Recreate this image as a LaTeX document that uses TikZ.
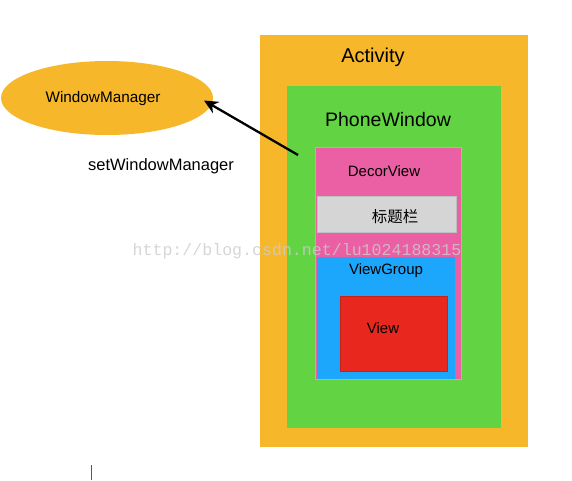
\documentclass[tikz,border=0pt]{standalone}
\usepackage{fontspec}
\setmainfont{Liberation Sans}
\newfontfamily\cjk{Noto Sans CJK SC}
\newfontfamily\wmfont{Liberation Mono}
\usetikzlibrary{shapes.geometric,arrows.meta}
\definecolor{actc}{HTML}{F6B72B}
\definecolor{pwc}{HTML}{62D443}
\definecolor{dvc}{HTML}{EB5FA4}
\definecolor{tbc}{HTML}{D5D5D5}
\definecolor{vgc}{HTML}{1CA6FC}
\definecolor{vc}{HTML}{E8281E}
\tikzset{
  box/.style={draw=none,inner sep=0pt},
  lbl/.style={inner sep=0pt,text=black},
}
\begin{document}
\begin{tikzpicture}[x=1pt,y=-1pt]
\useasboundingbox[fill=white] (0,0) rectangle (572,480);
% boxes
\fill[actc] (260,35) rectangle (528,447);
\fill[pwc] (287,86) rectangle (501,428);
\filldraw[fill=dvc,draw=dvc!70!white] (315,147) rectangle (461,379);
\filldraw[fill=tbc,draw=tbc!90!black,line width=0.4pt] (317,196) rectangle (456,232);
\fill[vgc] (317,257) rectangle (455,379);
\filldraw[fill=vc,draw=vc!85!black,line width=0.6pt] (340,296) rectangle (447,371);
% labels
\node[lbl,font=\fontsize{20}{22}\selectfont] (actl) at (373,57) {Activity};
\node[lbl,font=\fontsize{19.5}{22}\selectfont] (pwl) at (388,120) {PhoneWindow};
\node[lbl,font=\fontsize{15}{17}\selectfont] (dvl) at (384,171.5) {DecorView};
\node[lbl,font=\cjk\fontsize{15.5}{17}\selectfont] (tbl) at (395,216.5) {标题栏};
\node[lbl,font=\fontsize{15}{17}\selectfont] (vgl) at (386,270.5) {ViewGroup};
\node[lbl,font=\fontsize{15}{17}\selectfont] (vl) at (383,328) {View};
% ellipse
\node[ellipse,fill=actc,minimum width=212,minimum height=74,inner sep=0pt] (wm) at (107,98) {};
\node[lbl,font=\fontsize{15.3}{17}\selectfont] (wml) at (103,98.5) {WindowManager};
\node[lbl,font=\fontsize{16.5}{19}\selectfont] (swm) at (161,166.5) {setWindowManager};
% arrow
\coordinate (src) at (298,155);
\draw[line width=2.3pt,-{Stealth[length=14pt,width=13pt]}] (src) -- (204,100.5);
% watermark
\node[lbl,text=gray!40,opacity=0.8,font=\wmfont\fontsize{16.6}{18}\selectfont] (wmk) at (297,251) {http://blog.csdn.net/lu1024188315};
% cursor
\coordinate (c1) at (91,465);
\coordinate (c2) at (91,480);
\draw[gray!70!black,line width=1pt] (c1) -- (c2);
\end{tikzpicture}
\end{document}
